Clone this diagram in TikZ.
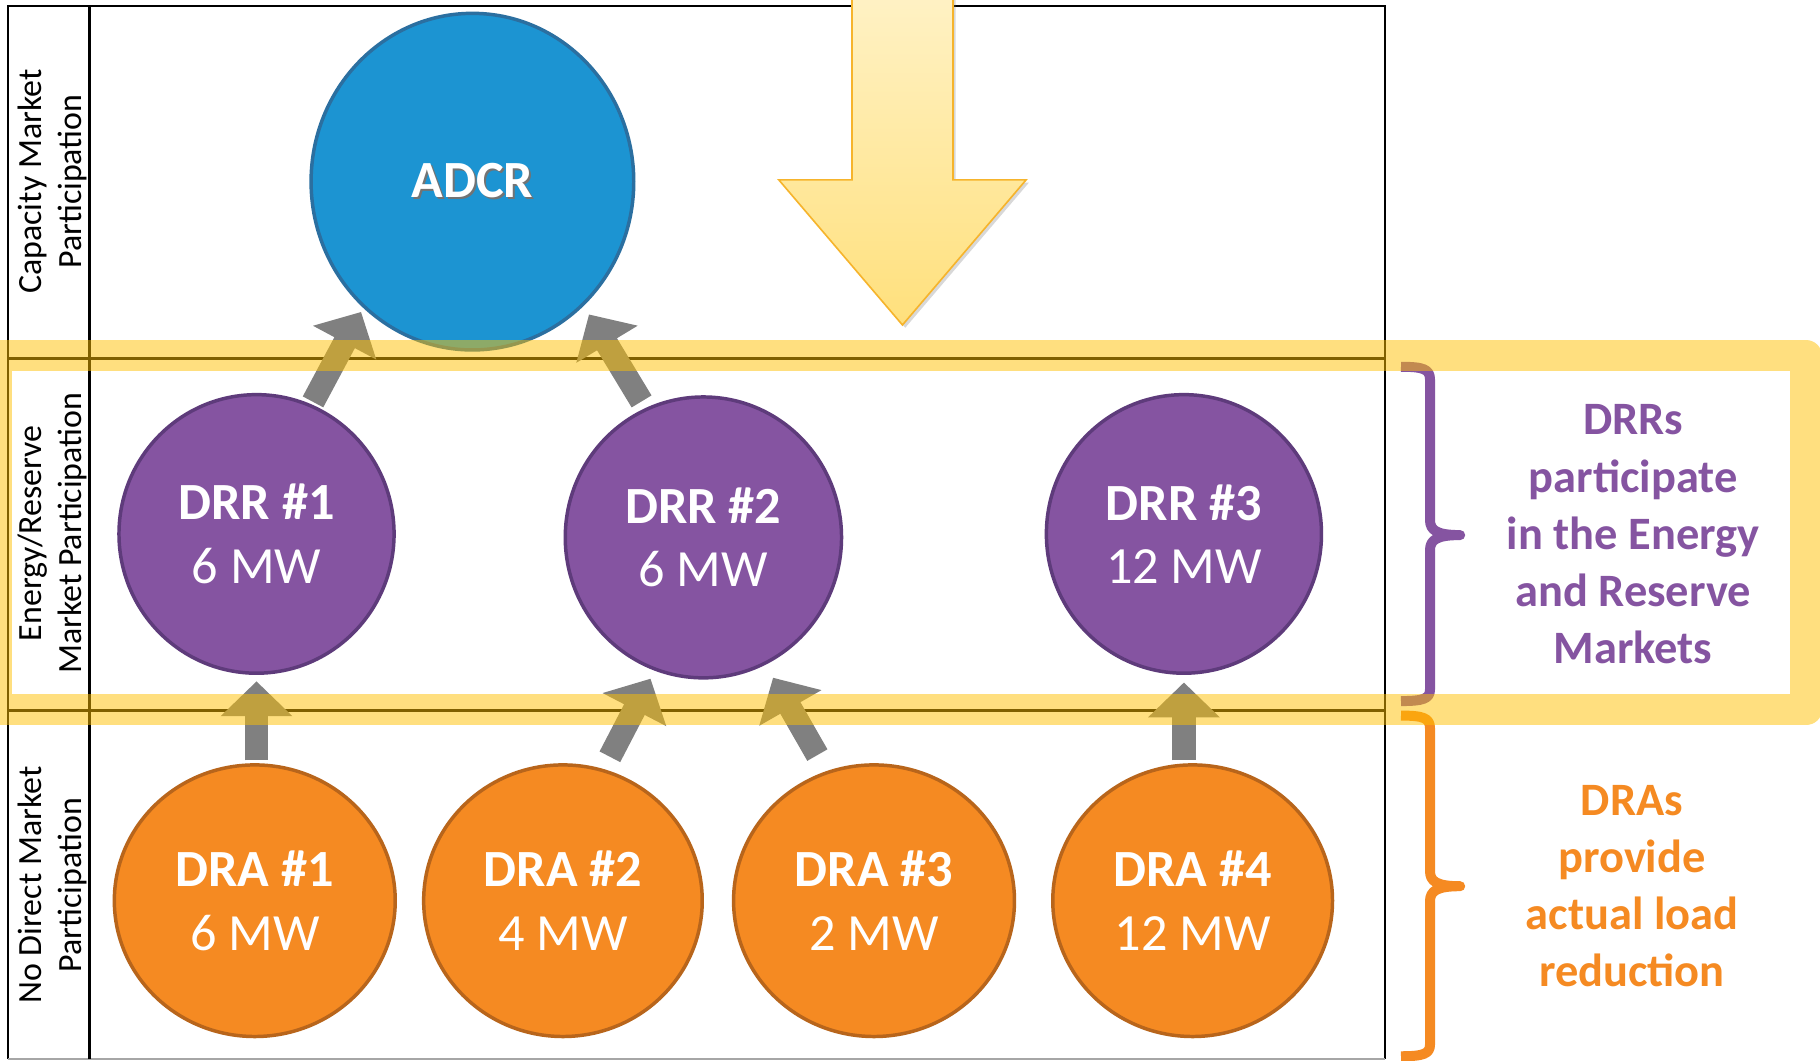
\documentclass[tikz,border=0pt]{standalone}
\usepackage{fontspec}
\setmainfont{Carlito}
\usetikzlibrary{arrows.meta,shapes.geometric,shadows}
\definecolor{adcrfill}{HTML}{1C94D2}
\definecolor{adcrline}{HTML}{2B6FA0}
\definecolor{drrfill}{HTML}{8554A1}
\definecolor{drrline}{HTML}{5E3B7B}
\definecolor{drafill}{HTML}{F58A22}
\definecolor{draline}{HTML}{B8651B}
\definecolor{hlyellow}{HTML}{FFC000}
\definecolor{arrowgray}{HTML}{808080}
\definecolor{bigtop}{HTML}{FFF2C6}
\definecolor{bigbot}{HTML}{FFE07C}
\definecolor{bigline}{HTML}{F6B42C}
\newcommand\shadowedtext[1]{\leavevmode\rlap{\kern0.9pt\raisebox{-0.9pt}{\textcolor{black!55}{#1}}}#1}
\begin{document}
\begin{tikzpicture}[x=0.5pt,y=-0.5pt,
  bubble/.style={ellipse, inner sep=0pt, outer sep=0pt, line width=1.5pt, text=white, align=center, font=\fontsize{22.5pt}{27.3pt}\selectfont},
  adcrnode/.style={bubble, fill=adcrfill, draw=adcrline, minimum width=139pt, minimum height=145pt},
  drrnode/.style={bubble, fill=drrfill, draw=drrline, minimum width=118.5pt, minimum height=120pt},
  dranode/.style={bubble, fill=drafill, draw=draline, minimum width=121pt, minimum height=117pt},
  rowlabel/.style={rotate=90, anchor=base, align=center, inner sep=0pt, font=\fontsize{14.6pt}{17.5pt}\selectfont},
  sidetext/.style={anchor=base, align=center, inner sep=0pt, font=\bfseries\fontsize{20pt}{24.6pt}\selectfont},
  uparrow/.style={draw=arrowgray, line width=10pt, line cap=butt, -{Triangle[width=30pt,length=15pt]}},
  gridline/.style={line width=1pt, draw=black},
  bracestyle/.style={line width=4.3pt, line cap=butt, line join=round},
  highlight/.style={draw=hlyellow, draw opacity=0.5, line width=13.5pt, line join=round},
  bigarrow/.style={draw=bigline, line width=0.7pt, top color=bigtop, bottom color=bigbot,
    drop shadow={opacity=0.3, shadow xshift=1.2pt, shadow yshift=-1.2pt}}
]
\useasboundingbox (0,0) rectangle (1568,914);
\fill[white] (0,0) rectangle (1568,914);

% table frame
\draw[gridline] (7,912.5) -- (7,5) -- (1193,5) -- (1193,912.5);
\draw[line width=1pt, draw=black!35] (7,912.5) -- (1193,912.5);
\draw[gridline] (77,5) -- (77,912.5);
\draw[gridline] (7,309) -- (1193,309);
\draw[gridline] (7,612) -- (1193,612);

% row labels (base anchor = baseline of the last line)
\node[rowlabel] (lcap) at (70.5,156.5) {Capacity Market\\Participation};
\node[rowlabel] (lener) at (70.5,459.5) {Energy/Reserve\\Market Participation};
\node[rowlabel] (lnone) at (70.5,762.5) {No Direct Market\\Participation};

% big yellow arrow
\path[bigarrow] (734,-10) -- (734,155) -- (671,155) -- (777.5,280) -- (884,155) -- (821,155) -- (821,-10) -- cycle;

% bubbles
\node[adcrnode] (adcr) at (407,156.5) {\bfseries\shadowedtext{ADCR}};
\node[drrnode] (drr1) at (221,460) {{\bfseries DRR \#1}\\6 MW};
\node[drrnode, minimum width=119pt, minimum height=121pt] (drr2) at (606,463) {{\bfseries DRR \#2}\\6 MW};
\node[drrnode] (drr3) at (1020,460) {{\bfseries DRR \#3}\\12 MW};
\node[dranode] (dra1) at (219.5,776) {{\bfseries DRA \#1}\\6 MW};
\node[dranode, minimum width=120pt] (dra2) at (485,776) {{\bfseries DRA \#2}\\4 MW};
\node[dranode] (dra3) at (753,776) {{\bfseries DRA \#3}\\2 MW};
\node[dranode, minimum width=120.5pt] (dra4) at (1027.5,776) {{\bfseries DRA \#4}\\12 MW};

% gray arrows
\draw[uparrow, shorten <=2pt, shorten >=3.5pt] (drr1.south |- dra1.north) -- (drr1.south);
\draw[uparrow, shorten <=6.7pt, shorten >=4.65pt] (dra2.73.4) -- (drr2.250.9);
\draw[uparrow, shorten <=8.7pt, shorten >=7.2pt] (dra3.110.8) -- (drr2.296.6);
\draw[uparrow, shorten <=2pt, shorten >=4pt] (drr3.south |- dra4.north) -- (drr3.south);
\draw[uparrow, shorten <=2pt, shorten >=2.75pt] (drr1.67) -- (adcr.229.4);
\draw[uparrow, shorten <=4.05pt, shorten >=5.1pt] (drr2.114.6) -- (adcr.312.7);

% braces
\draw[bracestyle, draw=drrfill] (1207,316) .. controls (1226,316) and (1232,318) .. (1232,327) -- (1232,448) .. controls (1232,457) and (1238,461) .. (1258,461) .. controls (1238,461) and (1232,465) .. (1232,474) -- (1232,594) .. controls (1232,602) and (1226,604) .. (1207,604);
\draw[bracestyle, draw=drafill] (1207,616.5) .. controls (1226,616.5) and (1232,618.5) .. (1232,627.5) -- (1232,750.5) .. controls (1232,759.5) and (1238,763.5) .. (1258,763.5) .. controls (1238,763.5) and (1232,767.5) .. (1232,776.5) -- (1232,900) .. controls (1232,908) and (1226,910) .. (1207,910);

% side texts (base anchor = baseline of the last line)
\node[sidetext, text=drrfill] (tdrr) at (1407,571.5) {DRRs\\participate\\in the Energy\\and Reserve\\Markets};
\node[sidetext, text=drafill] (tdra) at (1406,850) {DRAs\\provide\\actual load\\reduction};

% yellow highlight of the energy/reserve row
\draw[highlight] (-3.5,306.5) rectangle (1556,611.5);
\end{tikzpicture}
\end{document}
